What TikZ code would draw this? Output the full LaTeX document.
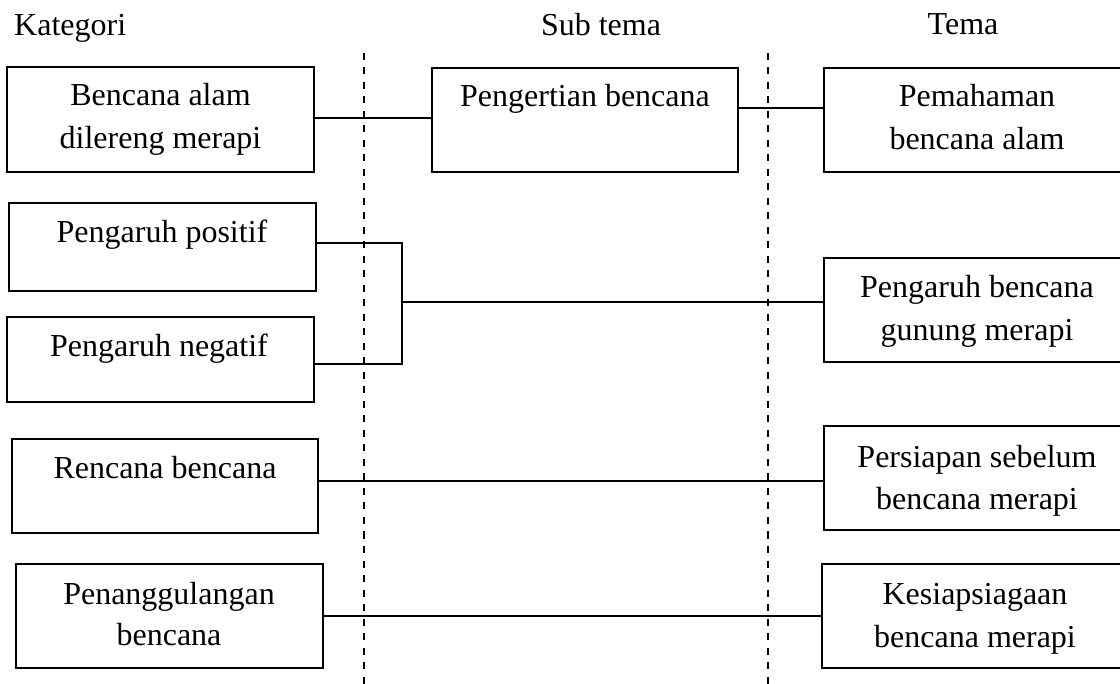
\documentclass[tikz,border=0pt]{standalone}
\usepackage{fontspec}
\setmainfont{Liberation Serif}
\begin{document}
\begin{tikzpicture}[x=1pt,y=-1pt,
  box/.style={draw=black,line width=1.5pt,rectangle,inner sep=0pt},
  txt/.style={inner sep=0pt,anchor=base,font=\fontsize{32}{43}\selectfont},
  link/.style={line width=1.6pt},
  divider/.style={line width=2pt,dash pattern=on 7pt off 7.5pt}]
\useasboundingbox (0,0) rectangle (1120,684);
\clip (0,0) rectangle (1120,684);

% column headings
\node[txt,anchor=base west] (hk) at (14,36) {Kategori};
\node[txt] (hs) at (601,36) {Sub tema};
\node[txt] (ht) at (963,35) {Tema};

% column dividers
\coordinate (d1a) at (364,53);
\coordinate (d1b) at (364,684);
\coordinate (d2a) at (768,53);
\coordinate (d2b) at (768,684);
\draw[divider] (d1a) -- (d1b);
\draw[divider] (d2a) -- (d2b);

% boxes
\node[box,minimum width=307pt,minimum height=105pt] (b1) at (160.5,119.5) {};
\node[box,minimum width=306pt,minimum height=104pt] (b2) at (585,120) {};
\node[box,minimum width=306pt,minimum height=104pt] (b3) at (977,120) {};
\node[box,minimum width=307pt,minimum height=88pt] (b4) at (162.5,247) {};
\node[box,minimum width=307pt,minimum height=85pt] (b5) at (160.5,359.5) {};
\node[box,minimum width=306pt,minimum height=104pt] (b6) at (977,310) {};
\node[box,minimum width=306pt,minimum height=94pt] (b7) at (165,486) {};
\node[box,minimum width=306pt,minimum height=104pt] (b8) at (977,478) {};
\node[box,minimum width=307pt,minimum height=104pt] (b9) at (169.5,616) {};
\node[box,minimum width=308pt,minimum height=104pt] (b10) at (976,616) {};

% box texts
\node[txt] (t1a) at (160.5,106) {Bencana alam};
\node[txt] (t1b) at (160.5,149) {dilereng merapi};
\node[txt] (t2) at (585,107) {Pengertian bencana};
\node[txt] (t3a) at (977,107) {Pemahaman};
\node[txt] (t3b) at (977,150) {bencana alam};
\node[txt] (t4) at (162,243) {Pengaruh positif};
\node[txt] (t5) at (159,357) {Pengaruh negatif};
\node[txt] (t6a) at (977,298) {Pengaruh bencana};
\node[txt] (t6b) at (977,341) {gunung merapi};
\node[txt] (t7) at (165,479) {Rencana bencana};
\node[txt] (t8a) at (977,468) {Persiapan sebelum};
\node[txt] (t8b) at (977,510) {bencana merapi};
\node[txt] (t9a) at (169,605) {Penanggulangan};
\node[txt] (t9b) at (169,645) {bencana};
\node[txt] (t10a) at (975,605) {Kesiapsiagaan};
\node[txt] (t10b) at (975,647) {bencana merapi};

% connectors
\draw[link] ([yshift=1.5pt]b1.east) -- ([yshift=1.5pt]b1.east -| b2.west);
\draw[link] ([yshift=12pt]b2.east) -- ([yshift=12pt]b2.east -| b3.west);
\coordinate (j) at (402,302);
\draw[link] ([yshift=4pt]b4.east) -| (j);
\draw[link] ([yshift=-4.5pt]b5.east) -| (j);
\draw[link] (j) -- (j -| b6.west);
\draw[link] ([yshift=5pt]b7.east) -- ([yshift=5pt]b7.east -| b8.west);
\draw[link] (b9.east) -- (b9.east -| b10.west);
\end{tikzpicture}
\end{document}
